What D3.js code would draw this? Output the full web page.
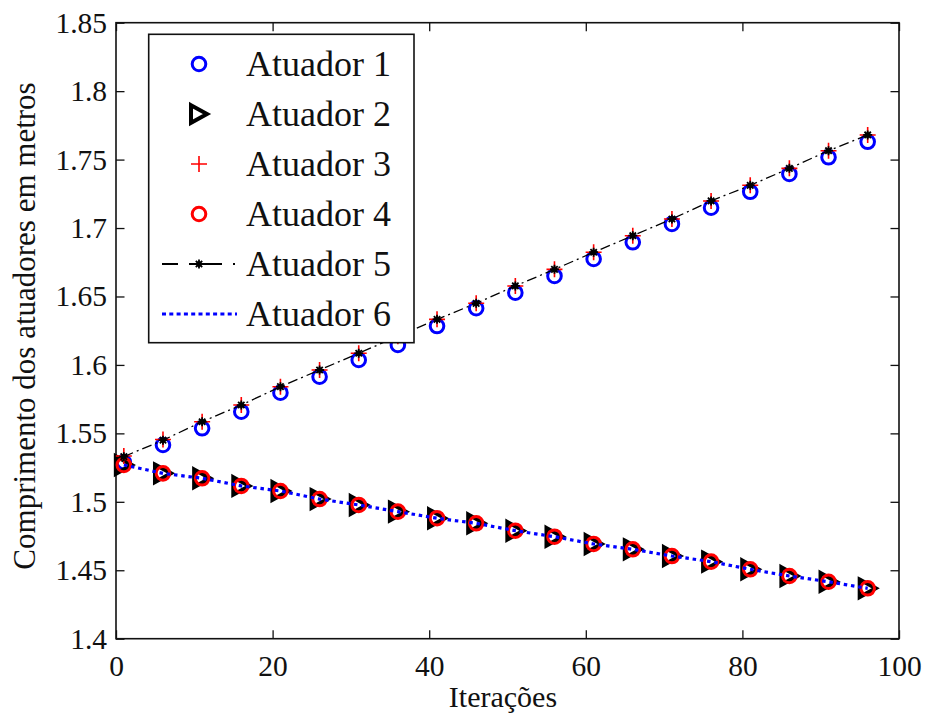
<!DOCTYPE html>
<html>
<head>
<meta charset="utf-8">
<script src="https://cdn.jsdelivr.net/npm/d3@7"></script>
<style>
  html, body { margin: 0; padding: 0; background: #fff; }
  svg { display: block; }
  text { font-family: "Liberation Serif", "Times New Roman", serif; fill: #111; }
</style>
</head>
<body>
<svg id="chart" width="928" height="715"></svg>
<script>
const iterations = [1, 6, 11, 16, 21, 26, 31, 36, 41, 46, 51, 56, 61, 66, 71, 76, 81, 86, 91, 96];
const atuador1 = [1.529, 1.5415, 1.5537, 1.5658, 1.5797, 1.5914, 1.6036, 1.6146, 1.6284, 1.6414,
                  1.6528, 1.6650, 1.6774, 1.6896, 1.7030, 1.7149, 1.7265, 1.7395, 1.7517, 1.7630];
const atuador2 = [1.5269, 1.5208, 1.5172, 1.5116, 1.5079, 1.5020, 1.4977, 1.4928, 1.4880, 1.4843,
                  1.4789, 1.4745, 1.4692, 1.4653, 1.4604, 1.4563, 1.4507, 1.4458, 1.4416, 1.4368];
const atuador3 = [1.5335, 1.5455, 1.5585, 1.5707, 1.5841, 1.5963, 1.6085, 1.6210, 1.6333, 1.6450,
                  1.6577, 1.6698, 1.6823, 1.6944, 1.7066, 1.7198, 1.7312, 1.7436, 1.7565, 1.7680];
const atuador4 = [1.5269, 1.5208, 1.5172, 1.5116, 1.5079, 1.5020, 1.4977, 1.4928, 1.4880, 1.4843,
                  1.4789, 1.4745, 1.4692, 1.4653, 1.4604, 1.4563, 1.4507, 1.4458, 1.4416, 1.4368];
const atuador5 = [1.5330, 1.5450, 1.5585, 1.5707, 1.5841, 1.5963, 1.6085, 1.6210, 1.6333, 1.6450,
                  1.6577, 1.6698, 1.6823, 1.6944, 1.7066, 1.7198, 1.7312, 1.7436, 1.7565, 1.7680];
const atuador6 = [1.5269, 1.5208, 1.5172, 1.5116, 1.5079, 1.5020, 1.4977, 1.4928, 1.4880, 1.4843,
                  1.4789, 1.4745, 1.4692, 1.4653, 1.4604, 1.4563, 1.4507, 1.4458, 1.4416, 1.4368];

const xTicks = [0, 20, 40, 60, 80, 100];
const yTicks = [1.4, 1.45, 1.5, 1.55, 1.6, 1.65, 1.7, 1.75, 1.8, 1.85];
const yTickLabels = ["1.4", "1.45", "1.5", "1.55", "1.6", "1.65", "1.7", "1.75", "1.8", "1.85"];
const legendLabels = ["Atuador 1", "Atuador 2", "Atuador 3", "Atuador 4", "Atuador 5", "Atuador 6"];
const xLabel = "Iterações";
const yLabel = "Comprimento dos atuadores em metros";

const svg = d3.select("#chart");
const L = 116, R = 899, T = 22.7, B = 638.7;
const x = d3.scaleLinear().domain([0, 100]).range([L, R]);
const y = d3.scaleLinear().domain([1.4, 1.85]).range([B, T]);

// axes box with inward ticks (MATLAB style)
const tickLen = 8.5;
const axBottom = svg.append("g").attr("transform", `translate(0,${B})`)
  .call(d3.axisBottom(x).tickValues(xTicks).tickSizeInner(-tickLen).tickSizeOuter(0).tickPadding(16).tickFormat(d3.format("d")));
const axTop = svg.append("g").attr("transform", `translate(0,${T})`)
  .call(d3.axisTop(x).tickValues(xTicks).tickSizeInner(-tickLen).tickSizeOuter(0).tickFormat(""));
const axLeft = svg.append("g").attr("transform", `translate(${L},0)`)
  .call(d3.axisLeft(y).tickValues(yTicks).tickSizeInner(-tickLen).tickSizeOuter(0).tickPadding(9)
    .tickFormat((d, i) => yTickLabels[i]));
const axRight = svg.append("g").attr("transform", `translate(${R},0)`)
  .call(d3.axisRight(y).tickValues(yTicks).tickSizeInner(-tickLen).tickSizeOuter(0).tickFormat(""));
[axBottom, axTop, axLeft, axRight].forEach(g => {
  g.attr("font-family", null);
  g.select(".domain").remove();
  g.selectAll(".tick line").attr("stroke", "#111").attr("stroke-width", 1.3);
  g.selectAll(".tick text").attr("font-size", 29.5).attr("fill", "#111")
    .style("font-family", "'Liberation Serif', 'Times New Roman', serif");
});
axBottom.selectAll(".tick text").attr("dy", "0.71em");
svg.append("rect").attr("x", L).attr("y", T).attr("width", R - L).attr("height", B - T)
  .attr("fill", "none").attr("stroke", "#111").attr("stroke-width", 1.6);

// axis labels
svg.append("text").attr("x", 503).attr("y", 707).attr("text-anchor", "middle")
  .attr("font-size", 30).text(xLabel);
svg.append("text").attr("transform", "translate(35,326) rotate(-90)").attr("text-anchor", "middle")
  .attr("font-size", 31).text(yLabel);

// marker drawing helpers
function circleMarker(g, cx, cy, color) {
  g.append("circle").attr("cx", cx).attr("cy", cy).attr("r", 6.8)
    .attr("fill", "none").attr("stroke", color).attr("stroke-width", 3);
}
function triMarker(g, cx, cy) {
  const s = 8;
  g.append("path").attr("d", `M${cx - s},${cy - s * 1.1}L${cx + s},${cy}L${cx - s},${cy + s * 1.1}Z`)
    .attr("fill", "none").attr("stroke", "#000").attr("stroke-width", 4).attr("stroke-linejoin", "miter");
}
function plusMarker(g, cx, cy) {
  const s = 8;
  g.append("path").attr("d", `M${cx - s},${cy}H${cx + s}M${cx},${cy - s}V${cy + s}`)
    .attr("fill", "none").attr("stroke", "#f00").attr("stroke-width", 1.6);
}
function starMarker(g, cx, cy) {
  const s = 4.5, d = 3.2;
  g.append("path").attr("d", `M${cx - s},${cy}H${cx + s}M${cx},${cy - s}V${cy + s}M${cx - d},${cy - d}L${cx + d},${cy + d}M${cx - d},${cy + d}L${cx + d},${cy - d}`)
    .attr("fill", "none").attr("stroke", "#000").attr("stroke-width", 1.8);
  g.append("circle").attr("cx", cx).attr("cy", cy).attr("r", 2.8).attr("fill", "#000");
}

const plot = svg.append("g");
const line = (vals) => d3.line().x((d, i) => x(iterations[i])).y(d => y(d))(vals);

// Atuador 1
const g1 = plot.append("g");
atuador1.forEach((v, i) => circleMarker(g1, x(iterations[i]), y(v), "#0000ff"));
// Atuador 2
const g2 = plot.append("g");
atuador2.forEach((v, i) => triMarker(g2, x(iterations[i]), y(v)));
// Atuador 3
const g3 = plot.append("g");
atuador3.forEach((v, i) => plusMarker(g3, x(iterations[i]), y(v)));
// Atuador 4
const g4 = plot.append("g");
atuador4.forEach((v, i) => circleMarker(g4, x(iterations[i]), y(v), "#ff0000"));
// Atuador 5
const g5 = plot.append("g");
g5.append("path").attr("d", line(atuador5)).attr("fill", "none").attr("stroke", "#000")
  .attr("stroke-width", 1.3).attr("stroke-dasharray", "10,4,2,4");
atuador5.forEach((v, i) => starMarker(g5, x(iterations[i]), y(v)));
// Atuador 6
plot.append("path").attr("d", line(atuador6)).attr("fill", "none").attr("stroke", "#0000ff")
  .attr("stroke-width", 3.2).attr("stroke-dasharray", "3.5,3.8");

// legend
const lg = svg.append("g");
lg.append("rect").attr("x", 148.7).attr("y", 34.3).attr("width", 414 - 148.7).attr("height", 342.7 - 34.3)
  .attr("fill", "#fff").attr("stroke", "#111").attr("stroke-width", 1.6);
const mx = 199, lx0 = 162, lx1 = 237, tx = 246;
legendLabels.forEach((lab, i) => {
  const cy = 64 + 50 * i;
  lg.append("text").attr("x", tx).attr("y", cy + 11.5).attr("font-size", 36).text(lab);
});
circleMarker(lg, mx, 64, "#0000ff");
triMarker(lg, mx, 114);
plusMarker(lg, mx, 164);
circleMarker(lg, mx, 214, "#ff0000");
lg.append("line").attr("x1", lx0).attr("x2", lx1).attr("y1", 264).attr("y2", 264)
  .attr("stroke", "#000").attr("stroke-width", 2).attr("stroke-dasharray", "16,11,33,11,2");
starMarker(lg, mx, 264);
lg.append("line").attr("x1", lx0).attr("x2", lx1).attr("y1", 314).attr("y2", 314)
  .attr("stroke", "#0000ff").attr("stroke-width", 2.8).attr("stroke-dasharray", "4,3.3");
</script>
</body>
</html>
